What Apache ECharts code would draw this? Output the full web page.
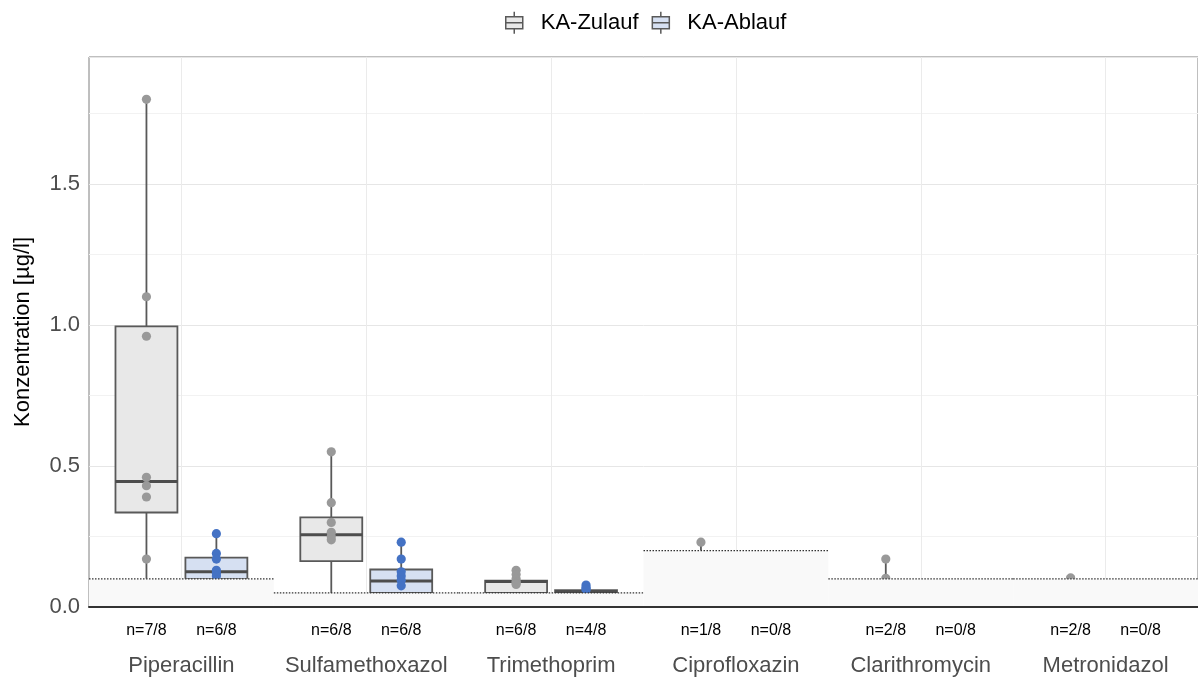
<!DOCTYPE html>
<html><head><meta charset="utf-8">
<script src="https://cdn.jsdelivr.net/npm/echarts@6/dist/echarts.min.js"></script>
<style>html,body{margin:0;padding:0;background:#fff}#c{width:1198px;height:678px}</style>
</head><body><div id="c"></div>
<script>
// ---- data ----
const categories = ['Piperacillin', 'Sulfamethoxazol', 'Trimethoprim', 'Ciprofloxazin', 'Clarithromycin', 'Metronidazol'];
const loq = [0.1, 0.05, 0.05, 0.2, 0.1, 0.1];
// [low whisker, Q1, median, Q3, high whisker]
const zulaufBox = [
  [0.1, 0.335, 0.445, 0.995, 1.8],
  [0.05, 0.163, 0.256, 0.318, 0.55],
  [0.05, 0.05, 0.09, 0.093, 0.13],
  [0.2, 0.2, 0.2, 0.2, 0.23],
  [0.1, 0.1, 0.1, 0.1, 0.17],
  [0.1, 0.1, 0.1, 0.1, 0.102]
];
const ablaufBox = [
  [0.1, 0.1, 0.125, 0.175, 0.26],
  [0.05, 0.05, 0.092, 0.133, 0.23],
  [0.05, 0.05, 0.055, 0.06, 0.078],
  null, null, null
];
const zulaufPoints = [
  [1.8, 1.1, 0.96, 0.46, 0.43, 0.39, 0.17],
  [0.55, 0.37, 0.30, 0.265, 0.25, 0.238],
  [0.13, 0.115, 0.10, 0.09, 0.085, 0.08],
  [0.23],
  [0.17, 0.102],
  [0.103, 0.101]
];
const ablaufPoints = [
  [0.26, 0.19, 0.17, 0.13, 0.12, 0.11],
  [0.23, 0.17, 0.125, 0.11, 0.095, 0.075],
  [0.078, 0.07, 0.065, 0.06],
  [], [], []
];
const nZulauf = ['n=7/8', 'n=6/8', 'n=6/8', 'n=1/8', 'n=2/8', 'n=2/8'];
const nAblauf = ['n=6/8', 'n=6/8', 'n=4/8', 'n=0/8', 'n=0/8', 'n=0/8'];
const yTickLabels = [0, 0.5, 1.0, 1.5];

// ---- styling ----
const FONT = '"Liberation Sans", Arial, sans-serif';
const OFF = 35 / 185;   // box offset as fraction of band
const BW = 62 / 185;    // box width as fraction of band
const Z_FILL = '#e8e8e8', A_FILL = '#d6e0f2';
const Z_PT = '#999999', A_PT = '#4472c4';
const STROKE = '#595959';
const LW = 1.8;

function boxRender(offFrac, fill) {
  return function (params, api) {
    const i = api.value(0);
    const band = api.size([1, 0])[0];
    const cx = api.coord([i, 0])[0] + offFrac * band;
    const w = BW * band;
    const yv = k => api.coord([i, api.value(k)])[1];
    const low = yv(1), q1 = yv(2), med = yv(3), q3 = yv(4), high = yv(5);
    const children = [
      { type: 'line', shape: { x1: cx, y1: high, x2: cx, y2: q3 }, style: { stroke: STROKE, lineWidth: LW } },
      { type: 'line', shape: { x1: cx, y1: q1, x2: cx, y2: low }, style: { stroke: STROKE, lineWidth: LW } }
    ];
    if (api.value(4) > api.value(2)) {
      children.push(
        { type: 'rect', shape: { x: cx - w / 2, y: q3, width: w, height: q1 - q3 }, style: { fill: fill, stroke: STROKE, lineWidth: LW } },
        { type: 'line', shape: { x1: cx - w / 2, y1: med, x2: cx + w / 2, y2: med }, style: { stroke: '#4d4d4d', lineWidth: 3 } }
      );
    }
    return { type: 'group', children: children };
  };
}
function pointRender(offFrac, color) {
  return function (params, api) {
    const i = api.value(0);
    const band = api.size([1, 0])[0];
    const p = api.coord([i, api.value(1)]);
    return { type: 'circle', shape: { cx: p[0] + offFrac * band, cy: p[1], r: 4.6 }, style: { fill: color } };
  };
}
function loqRender(params, api) {
  const i = api.value(0);
  const band = api.size([1, 0])[0];
  const base = api.coord([i, 0]);
  const top = api.coord([i, api.value(1)])[1];
  const x0 = base[0] - band / 2;
  return {
    type: 'group', children: [
      { type: 'rect', shape: { x: x0, y: top, width: band, height: base[1] - top - 1 }, style: { fill: '#f9f9f9' } },
      { type: 'line', shape: { x1: x0, y1: top, x2: x0 + band, y2: top }, style: { stroke: '#333', lineWidth: 1.3, lineDash: [1.5, 1.5] } }
    ]
  };
}
function nRender(params, api) {
  const i = api.value(0);
  const band = api.size([1, 0])[0];
  const base = api.coord([i, 0]);
  const mk = (txt, off) => ({
    type: 'text',
    style: { text: txt, x: base[0] + off * band, y: base[1] + 24, align: 'center', verticalAlign: 'middle',
             fontSize: 16, fontFamily: FONT, fill: '#000' }
  });
  return { type: 'group', children: [mk(nZulauf[params.dataIndex], -OFF), mk(nAblauf[params.dataIndex], OFF)] };
}

const boxData = arr => arr.map((b, i) => b ? [i].concat(b) : null).filter(d => d);
const ptData = arr => { const out = []; arr.forEach((vals, i) => vals.forEach(v => out.push([i, v]))); return out; };

const ICON = 'path://M8.5,0 L8.5,5 M0,5 L17,5 L17,17 L0,17 Z M0,11 L17,11 M8.5,17 L8.5,22';

const chart = echarts.init(document.getElementById('c'), null, { renderer: 'canvas' });
chart.setOption({
  animation: false,
  backgroundColor: '#fff',
  textStyle: { fontFamily: FONT },
  legend: {
    left: 505, top: 11, padding: 0, itemWidth: 17, itemHeight: 22, itemGap: 13,
    textStyle: { fontSize: 22, color: '#000', fontFamily: FONT, padding: [0, 0, 0, 13] },
    data: [
      { name: 'KA-Zulauf', icon: ICON, itemStyle: { color: Z_FILL, borderColor: STROKE, borderWidth: 1.5 } },
      { name: 'KA-Ablauf', icon: ICON, itemStyle: { color: A_FILL, borderColor: STROKE, borderWidth: 1.5 } }
    ]
  },
  grid: { left: 89, right: 0, top: 57, bottom: 71, show: true, borderColor: '#7f7f7f', borderWidth: 1, backgroundColor: 'transparent', containLabel: false },
  xAxis: {
    type: 'category', data: categories, boundaryGap: true,
    axisLine: { show: true, lineStyle: { color: '#333', width: 2 } },
    axisTick: { show: false, alignWithLabel: true },
    axisLabel: { interval: 0, margin: 48, fontSize: 22, color: '#4d4d4d', fontFamily: FONT },
    splitLine: { show: true, alignWithLabel: true, lineStyle: { color: '#ebebeb', width: 1 } }
  },
  yAxis: {
    type: 'value', min: 0, max: 1.95, interval: 0.25,
    name: 'Konzentration [µg/l]', nameLocation: 'middle', nameGap: 55,
    nameTextStyle: { fontSize: 22, color: '#000', fontFamily: FONT },
    axisLine: { show: false }, axisTick: { show: false },
    axisLabel: {
      margin: 9, fontSize: 22, color: '#4d4d4d', fontFamily: FONT, showMaxLabel: false,
      formatter: v => yTickLabels.some(t => Math.abs(t - v) < 1e-9) ? v.toFixed(1) : ''
    },
    splitLine: { show: true, lineStyle: { color: ['#e6e6e6', '#f2f2f2'], width: 1 } }
  },
  series: [
    { name: 'KA-Zulauf', type: 'custom', z: 2, itemStyle: { color: Z_FILL, borderColor: STROKE }, renderItem: boxRender(-OFF, Z_FILL), data: boxData(zulaufBox), encode: { x: 0, y: [1, 2, 3, 4, 5] } },
    { name: 'KA-Ablauf', type: 'custom', z: 2, itemStyle: { color: A_FILL, borderColor: STROKE }, renderItem: boxRender(OFF, A_FILL), data: boxData(ablaufBox), encode: { x: 0, y: [1, 2, 3, 4, 5] } },
    { name: 'KA-Zulauf', type: 'custom', z: 3, renderItem: pointRender(-OFF, Z_PT), data: ptData(zulaufPoints), encode: { x: 0, y: 1 } },
    { name: 'KA-Ablauf', type: 'custom', z: 3, renderItem: pointRender(OFF, A_PT), data: ptData(ablaufPoints), encode: { x: 0, y: 1 } },
    { name: 'LOQ', type: 'custom', z: 4, renderItem: loqRender, data: loq.map((v, i) => [i, v]), encode: { x: 0, y: 1 } },
    { name: 'n', type: 'custom', z: 5, clip: false, renderItem: nRender, data: categories.map((c, i) => [i, 0]), encode: { x: 0, y: 1 } }
  ]
});
</script>
</body></html>
